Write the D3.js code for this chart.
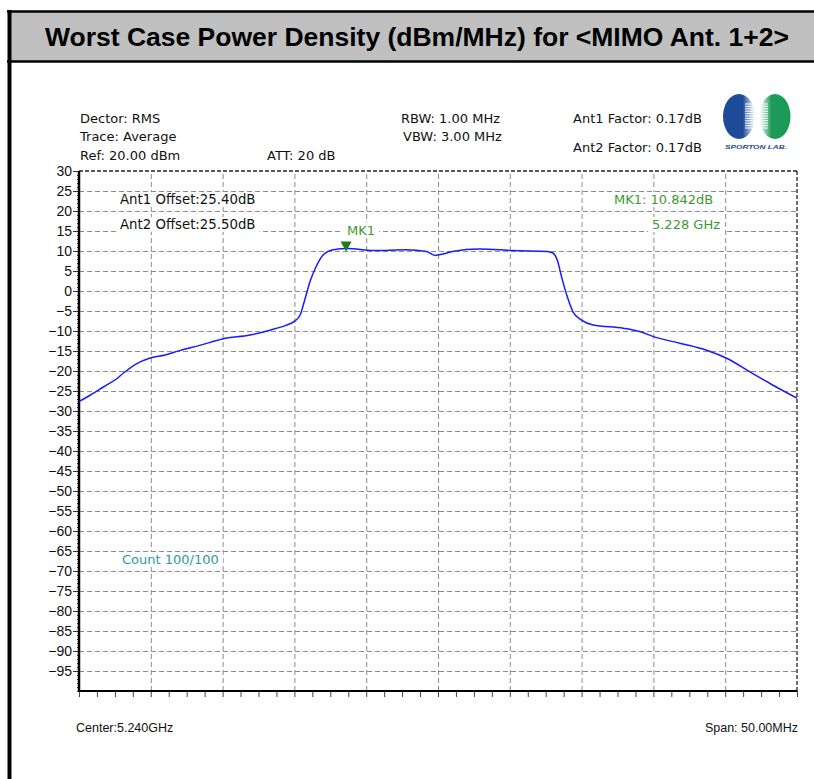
<!DOCTYPE html>
<html>
<head>
<meta charset="utf-8">
<script src="https://cdn.jsdelivr.net/npm/d3@7"></script>
<style>
  html, body { margin: 0; padding: 0; background: #fff; }
  svg { display: block; }
</style>
</head>
<body>
<svg id="chart" width="814" height="779"></svg>
<script>
// trace (frequency in GHz, level in dBm/MHz)
const traceFreq = [5.2150, 5.2158, 5.2167, 5.2176, 5.2181, 5.2190, 5.2199, 5.2210, 5.2220, 5.2234,
    5.2250, 5.2269, 5.2283, 5.2294, 5.2300, 5.2304, 5.2307, 5.2311, 5.2315, 5.2320,
    5.2327, 5.2337, 5.2355, 5.2378, 5.2392, 5.2398, 5.2404, 5.2410, 5.2429, 5.2452,
    5.2476, 5.2480, 5.2483, 5.2486, 5.2490, 5.2494, 5.2500, 5.2508, 5.2529, 5.2541,
    5.2550, 5.2569, 5.2587, 5.2601, 5.2619, 5.2633, 5.2650];
const traceLevel = [-27.6, -26.0, -24.0, -22.0, -20.5, -18.2, -16.8, -16.0, -14.9, -13.6,
    -12.0, -11.0, -9.8, -8.6, -7.6, -6.0, -2.5, 2.5, 6.0, 9.0,
    10.3, 10.6, 10.1, 10.3, 9.9, 8.9, 9.3, 9.9, 10.5, 10.1,
    9.9, 9.5, 7.8, 3.6, -1.4, -5.2, -7.3, -8.5, -9.3, -10.2,
    -11.4, -13.1, -14.8, -16.8, -20.6, -23.5, -26.8];

const freqSpan = [5.215, 5.265];
const levelSpan = [-100, 30];
const levelTicks = [30, 25, 20, 15, 10, 5, 0, -5, -10, -15, -20, -25, -30, -35, -40, -45, -50,
    -55, -60, -65, -70, -75, -80, -85, -90, -95];
const freqGrid = [5.220, 5.225, 5.230, 5.235, 5.240, 5.245, 5.250, 5.255, 5.260];

const marker = { freq: 5.2336, level: 10.6, name: "MK1" };

const title = "Worst Case Power Density (dBm/MHz) for <MIMO Ant. 1+2>";
const headerLeft = ["Dector: RMS", "Trace: Average", "Ref: 20.00 dBm"];
const headerAtt = "ATT: 20 dB";
const headerMid = ["RBW: 1.00 MHz", "VBW: 3.00 MHz"];
const headerRight = ["Ant1 Factor: 0.17dB", "Ant2 Factor: 0.17dB"];
const offsets = ["Ant1 Offset:25.40dB", "Ant2 Offset:25.50dB"];
const markerReadout = ["MK1: 10.842dB", "5.228 GHz"];
const countLabel = "Count 100/100";
const centerLabel = "Center:5.240GHz";
const spanLabel = "Span: 50.00MHz";

const svg = d3.select("#chart");
const plot = { left: 79, right: 797, top: 171, bottom: 691 };
const uiFont = "'DejaVu Sans', sans-serif";
const arial = "'Liberation Sans', Arial, sans-serif";
const green = "#3b9a33";

// outer frame + title band
svg.append("rect").attr("x", 9).attr("y", 12).attr("width", 810).attr("height", 49)
    .attr("fill", "#c0c0c0");
svg.append("line").attr("x1", 7).attr("x2", 814).attr("y1", 11.5).attr("y2", 11.5)
    .attr("stroke", "#000").attr("stroke-width", 2.5);
svg.append("line").attr("x1", 7).attr("x2", 814).attr("y1", 61.5).attr("y2", 61.5)
    .attr("stroke", "#000").attr("stroke-width", 2.5);
svg.append("line").attr("x1", 9.5).attr("x2", 9.5).attr("y1", 10).attr("y2", 779)
    .attr("stroke", "#000").attr("stroke-width", 4);
svg.append("text").attr("x", 417).attr("y", 46).attr("text-anchor", "middle")
    .attr("font-family", arial).attr("font-weight", "bold").attr("font-size", 25)
    .attr("textLength", 744).attr("lengthAdjust", "spacingAndGlyphs")
    .text(title);

const x = d3.scaleLinear().domain(freqSpan).range([plot.left, plot.right]);
const y = d3.scaleLinear().domain(levelSpan).range([plot.bottom, plot.top]);

// grid
const grid = svg.append("g");
grid.append("g").attr("transform", `translate(${plot.left},0)`)
    .call(d3.axisLeft(y).tickValues(levelTicks.filter(v => v < 30))
        .tickSize(-(plot.right - plot.left)).tickFormat(""))
    .call(g => g.select(".domain").remove())
    .selectAll("line").attr("stroke", "#8c8c8c").attr("stroke-dasharray", "5,3");
grid.append("g").attr("transform", `translate(0,${plot.bottom})`)
    .call(d3.axisBottom(x).tickValues(freqGrid)
        .tickSize(-(plot.bottom - plot.top)).tickFormat(""))
    .call(g => g.select(".domain").remove())
    .selectAll("line").attr("stroke", "#8c8c8c").attr("stroke-dasharray", "5,3");

// top + right borders (dashed, dark)
svg.append("line").attr("x1", plot.left).attr("x2", plot.right)
    .attr("y1", y(30)).attr("y2", y(30))
    .attr("stroke", "#222").attr("stroke-width", 1.3).attr("stroke-dasharray", "4,2");
svg.append("line").attr("x1", plot.right).attr("x2", plot.right)
    .attr("y1", plot.top).attr("y2", plot.bottom)
    .attr("stroke", "#222").attr("stroke-width", 1.3).attr("stroke-dasharray", "4,2");

// text labels in the plot with white backing
function boxedText(tx, ty, str, color, anchor, size) {
    const g = svg.append("g");
    const rect = g.append("rect").attr("fill", "#fff");
    const t = g.append("text").attr("x", tx).attr("y", ty)
        .attr("font-family", uiFont).attr("font-size", size || 13)
        .attr("fill", color).attr("text-anchor", anchor || "start").text(str);
    const b = t.node().getBBox();
    rect.attr("x", b.x - 4).attr("y", b.y).attr("width", b.width + 8).attr("height", b.height);
    return g;
}
boxedText(120, 204, offsets[0], "#111", "start", 13.3);
boxedText(120, 229, offsets[1], "#111", "start", 13.3);
boxedText(614, 204, markerReadout[0], green, "start", 13);
boxedText(720, 229, markerReadout[1], green, "end", 13);
boxedText(122, 564, countLabel, "#2b9aa3", "start", 13);

// y axis
svg.append("g").attr("transform", `translate(${plot.left},0)`)
    .call(d3.axisLeft(y).tickValues(d3.range(-100, 31, 1)).tickSize(2).tickFormat(""))
    .call(g => g.select(".domain").remove())
    .selectAll("line").attr("stroke", "#444");
svg.append("g").attr("transform", `translate(${plot.left},0)`)
    .call(d3.axisLeft(y).tickValues(levelTicks).tickSize(6).tickPadding(1))
    .call(g => g.select(".domain").remove())
    .call(g => g.selectAll("line").attr("stroke", "#333"))
    .call(g => g.selectAll("text").attr("font-family", arial).attr("font-size", 14)
        .attr("fill", "#111"));

// x minor ticks
svg.append("g").attr("transform", `translate(0,${plot.bottom})`)
    .call(d3.axisBottom(x).tickValues(d3.range(0, 41).map(i => freqSpan[0] + i * 0.00125))
        .tickSize(6).tickFormat(""))
    .call(g => g.select(".domain").remove())
    .selectAll("line").attr("stroke", "#444");

// solid left/bottom axis lines
svg.append("line").attr("x1", plot.left).attr("x2", plot.left)
    .attr("y1", plot.top).attr("y2", plot.bottom + 1)
    .attr("stroke", "#000").attr("stroke-width", 2.5);
svg.append("line").attr("x1", plot.left - 1).attr("x2", plot.right)
    .attr("y1", plot.bottom).attr("y2", plot.bottom)
    .attr("stroke", "#000").attr("stroke-width", 2);

// trace
const traceData = traceFreq.map((f, i) => [f, traceLevel[i]]);
const line = d3.line().x(d => x(d[0])).y(d => y(d[1])).curve(d3.curveMonotoneX);
svg.append("path").datum(traceData)
    .attr("d", line)
    .attr("fill", "none").attr("stroke", "#1a1aff").attr("stroke-width", 1.5);

// marker
const mx = x(marker.freq), my = y(marker.level) + 3;
svg.append("path")
    .attr("d", `M${mx - 5.5},${my - 10}L${mx + 5.5},${my - 10}L${mx},${my}Z`)
    .attr("fill", "#1f7a1f");
boxedText(mx + 1, my - 17, marker.name, green, "start", 13);

// header
const head = svg.append("g").attr("font-family", uiFont).attr("font-size", 13).attr("fill", "#111");
head.selectAll(".hl").data(headerLeft).join("text")
    .attr("x", 80).attr("y", (d, i) => [123, 141, 160][i]).text(d => d);
head.append("text").attr("x", 267).attr("y", 160).text(headerAtt);
head.selectAll(".hm").data(headerMid).join("text")
    .attr("x", (d, i) => [401, 403][i]).attr("y", (d, i) => [123, 141][i]).text(d => d);
head.selectAll(".hr").data(headerRight).join("text")
    .attr("x", 573).attr("y", (d, i) => [123, 151.5][i]).text(d => d);

// bottom labels
svg.append("text").attr("x", 76).attr("y", 732)
    .attr("font-family", arial).attr("font-size", 12.5).attr("fill", "#111")
    .text(centerLabel);
svg.append("text").attr("x", 798).attr("y", 732).attr("text-anchor", "end")
    .attr("font-family", arial).attr("font-size", 12.5).attr("fill", "#111")
    .text(spanLabel);

// logo
const defs = svg.append("defs");
const gb = defs.append("linearGradient").attr("id", "gblue");
gb.append("stop").attr("offset", "0.62").attr("stop-color", "#1d4b97");
gb.append("stop").attr("offset", "1").attr("stop-color", "#fff");
const gg = defs.append("linearGradient").attr("id", "ggreen");
gg.append("stop").attr("offset", "0").attr("stop-color", "#fff");
gg.append("stop").attr("offset", "0.38").attr("stop-color", "#1c9a57");
const logo = svg.append("g");
logo.append("ellipse").attr("cx", 739).attr("cy", 116.5).attr("rx", 16).attr("ry", 22.5)
    .attr("fill", "url(#gblue)");
logo.append("ellipse").attr("cx", 775).attr("cy", 116.5).attr("rx", 15.5).attr("ry", 22.5)
    .attr("fill", "url(#ggreen)");
logo.selectAll(".stripe").data(d3.range(104, 130, 2.4)).join("line")
    .attr("x1", 745).attr("x2", 768).attr("y1", d => d).attr("y2", d => d)
    .attr("stroke", "#fff").attr("stroke-width", 1);
logo.append("text").attr("x", 756).attr("y", 149).attr("text-anchor", "middle")
    .attr("font-family", arial).attr("font-size", 6).attr("font-weight", "bold")
    .attr("font-style", "italic").attr("fill", "#1d4b97")
    .attr("textLength", 62).attr("lengthAdjust", "spacingAndGlyphs")
    .text("SPORTON LAB.");
</script>
</body>
</html>
